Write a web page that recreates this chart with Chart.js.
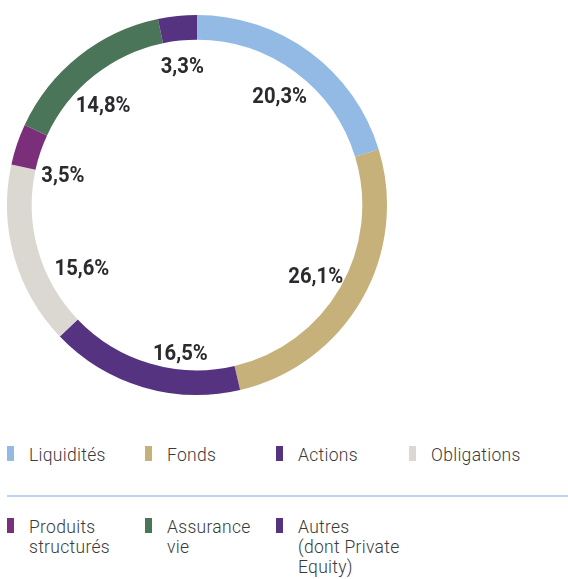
<!DOCTYPE html>
<html><head><meta charset="utf-8">
<script src="https://cdn.jsdelivr.net/npm/chart.js@4"></script>
<style>
html,body{margin:0;padding:0;background:#fff;width:568px;height:579px;overflow:hidden;position:relative;font-family:Roboto,"Open Sans",sans-serif;}
#wrap{position:absolute;left:0;top:0;width:394px;height:410px;}
.lg{position:absolute;font-size:17.5px;font-weight:300;color:#3a3a3a;line-height:20px;letter-spacing:0.3px;}
.sw{position:absolute;width:7px;height:15px;}
#sep{position:absolute;left:7px;top:495px;width:561px;height:2px;background:#bcd6f0;}
</style></head><body>
<div id="wrap"><canvas id="c"></canvas></div>
<div id="legend"></div>
<div id="sep"></div>
<script>
const categories = ["Liquidités","Fonds","Actions","Obligations","Produits structurés","Assurance vie","Autres (dont Private Equity)"];
const legendLines = [["Liquidités"],["Fonds"],["Actions"],["Obligations"],["Produits","structurés"],["Assurance","vie"],["Autres","(dont Private","Equity)"]];
const values = [20.3,26.1,16.5,15.6,3.5,14.8,3.3];
const valueLabels = ["20,3%","26,1%","16,5%","15,6%","3,5%","14,8%","3,3%"];
const colors = ["#93bae4","#c6b17b","#553381","#dbd7d1","#7b2f7b","#4a7558","#553381"];

// legend layout (style only)
const legendPos = [[7,446],[145,446],[276,446],[409,446],[7,518],[145,518],[276,518]];
const lg = document.getElementById('legend');
legendLines.forEach((lines,i)=>{
  const [x,y] = legendPos[i];
  const s = document.createElement('div'); s.className='sw';
  s.style.left=x+'px'; s.style.top=y+'px'; s.style.background=colors[i]; lg.appendChild(s);
  const t = document.createElement('div'); t.className='lg';
  t.style.left=(x+22)+'px'; t.style.top=(y-1)+'px';
  t.innerHTML = lines.join('<br>'); lg.appendChild(t);
});

const labelAdjust = [0,0,-10,-12,-5,-4,0]; // degrees
const labelRadius = [139,137,146,130,138,139,142];
const labelPlugin = {
  id:'inLabels',
  afterDatasetsDraw(chart){
    const ctx = chart.ctx;
    const meta = chart.getDatasetMeta(0);
    ctx.save();
    ctx.font = 'bold 22px Roboto, "DejaVu Sans", sans-serif';
    ctx.fillStyle = '#2b2a2e';
    ctx.textAlign='center'; ctx.textBaseline='middle';
    meta.data.forEach((arc,i)=>{
      const p = arc.getProps(['x','y','startAngle','endAngle'],true);
      const a = (p.startAngle+p.endAngle)/2 + labelAdjust[i]*Math.PI/180;
      const r = labelRadius[i];
      const lx = p.x + Math.cos(a)*r, ly = p.y + Math.sin(a)*r + 4;
      ctx.save();
      ctx.translate(lx, ly);
      ctx.scale(0.92, 1);
      ctx.fillText(valueLabels[i], 0, 0);
      ctx.restore();
    });
    ctx.restore();
  }
};

new Chart(document.getElementById('c'),{
  type:'doughnut',
  data:{labels:categories,datasets:[{data:values,backgroundColor:colors,borderWidth:0}]},
  options:{
    responsive:true,maintainAspectRatio:false,animation:false,
    cutout:'87%',
    layout:{padding:{top:15,bottom:15,left:0,right:0}},
    plugins:{legend:{display:false},tooltip:{enabled:false}}
  },
  plugins:[labelPlugin]
});
</script>
</body></html>
